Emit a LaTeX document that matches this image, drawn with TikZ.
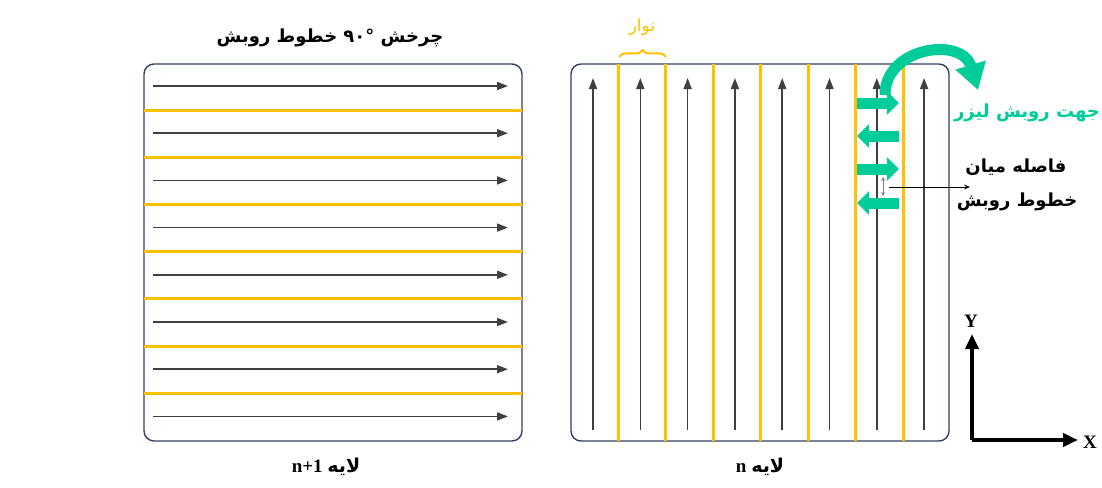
\documentclass[tikz,border=0pt]{standalone}
\usepackage{fontspec}
\setmainfont{Liberation Serif}
\newfontfamily\farsi[Script=Arabic]{DejaVu Sans}
\TeXXeTstate=1
\usepackage{tikz}
\usetikzlibrary{arrows.meta,decorations.pathreplacing}
\definecolor{frame}{RGB}{50,64,98}
\definecolor{band}{RGB}{255,192,0}
\definecolor{scanline}{RGB}{64,64,64}
\definecolor{laser}{RGB}{0,204,153}
\definecolor{laserdark}{RGB}{0,165,122}
\tikzset{
  layerbox/.style={rectangle, draw=frame, line width=1.4, rounded corners=10,
                   minimum width=378, minimum height=377, inner sep=0},
  bandline/.style={draw=band, line width=3},
  scanarr/.style={draw=scanline, line width=1.6, -{Triangle[length=11,width=8]}},
  laserarr/.style={draw=laser, line width=11, -{Triangle[length=12,width=23]}},
  turnarr/.style={draw=laser, line width=11, -{Triangle[length=26,width=30]}},
  gaparr/.style={draw=gray, line width=0.8, {Stealth[length=4,width=4]}-{Stealth[length=4,width=4]}},
  pointer/.style={draw=black, line width=1, -{Stealth[length=6,width=5]}},
  axisarr/.style={draw=black, line width=4, -{Triangle[length=15,width=13]}},
  fatext/.style={font=\farsi\bfseries\fontsize{18}{21}\selectfont, inner sep=1},
  latext/.style={font=\bfseries\fontsize{19}{22}\selectfont, inner sep=1},
}
\begin{document}
\begin{tikzpicture}[x=1pt, y=-1pt]
  \useasboundingbox (0,0) rectangle (1102,487);
  \node[layerbox] (turned) at (333,252.5) {};
  \node[layerbox] (layer) at (760,252.5) {};
  \foreach \i in {0,...,6}
    \draw[bandline] (144,{110+47.2*\i}) -- (522,{110+47.2*\i});
  \foreach \i in {0,...,7}
    \draw[scanarr] (153,{86+47.2*\i}) -- (508,{86+47.2*\i});
  \foreach \i in {0,...,6}
    \draw[bandline] ({618+47.5*\i},64) -- ({618+47.5*\i},441);
  \foreach \i in {0,...,7}
    \draw[scanarr] ({593+47.3*\i},430) -- ({593+47.3*\i},78);
  \draw[band, line width=2, decorate, decoration={brace, amplitude=7}] (619,57) -- (666,57);
  \node[fatext, font=\farsi\fontsize{17}{20}\selectfont, text=band] (strip) at (642,27) {\beginR نوار\endR};
  \node[fatext] (rotate) at (330,38) {\beginR چرخش \beginL۹۰°\endL{} خطوط روبش\endR};
  \draw[laserarr] (857,103) -- (899,103);
  \draw[laserarr] (899,136) -- (857,136);
  \draw[laserarr] (857,169) -- (899,169);
  \draw[laserarr] (899,203) -- (857,203);
  \draw[turnarr] (885,95) .. controls (885,47) and (962,36) .. (978,90);
  \node[fatext, text=laser] (laserdir) at (1027,113) {\beginR جهت روبش لیزر\endR};
  \draw[gaparr] (883,177) -- (883,196);
  \coordinate (gap) at (889,187);
  \node[fatext] (gaplabel1) at (1016,167) {\beginR فاصله میان\endR};
  \node[fatext] (gaplabel2) at (1017,202) {\beginR خطوط روبش\endR};
  \draw[pointer] (gap) -- (970,187);
  \coordinate (origin) at (972,440);
  \node[latext] (ylab) at (971,321) {Y};
  \node[latext] (xlab) at (1090,442) {X};
  \draw[axisarr] (origin) -- (972,334);
  \draw[axisarr] (origin) -- (1078,440);
  \node[latext] (toplayer) at (326,467) {n+1 {\farsi\beginR لایه\endR}};
  \node[latext] (baselayer) at (760,467) {n {\farsi\beginR لایه\endR}};
\end{tikzpicture}
\end{document}
